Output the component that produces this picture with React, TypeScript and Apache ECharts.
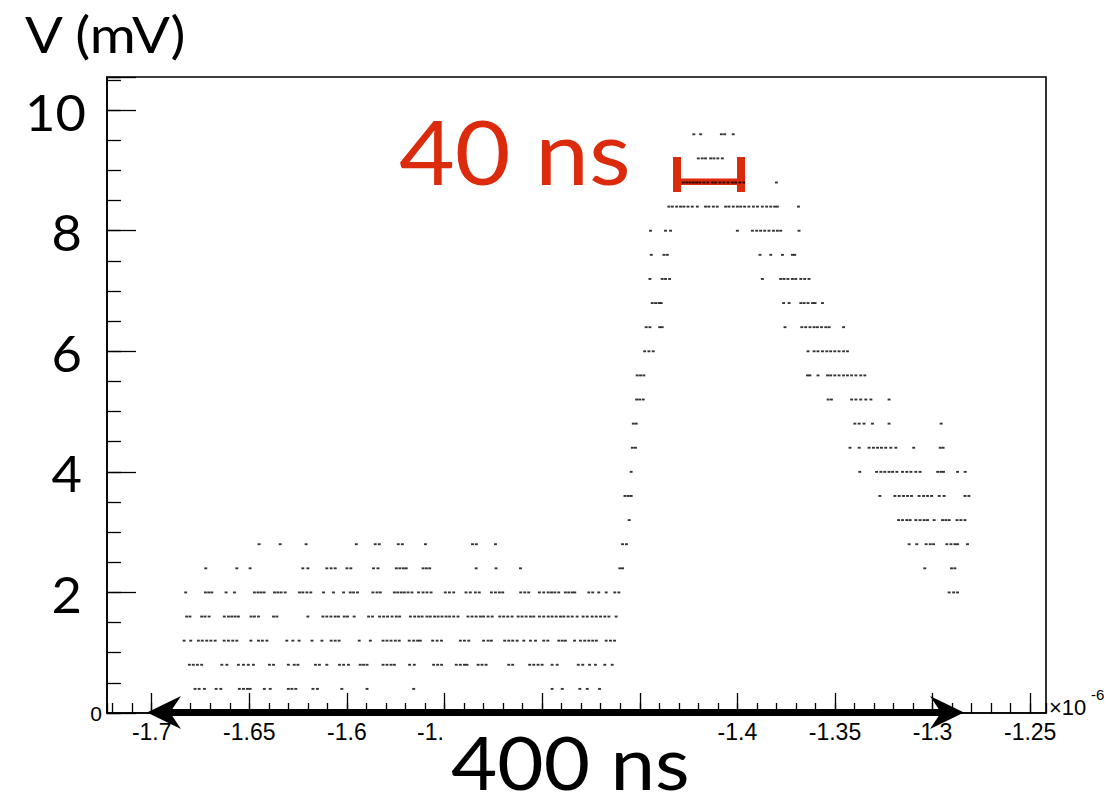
import React, { useEffect, useRef } from "react";
import * as echarts from "echarts";

// Voltage levels (mV) of the digitised samples
const levels = [0.4, 0.8, 1.2, 1.6, 2.0, 2.4, 2.8, 3.2, 3.6, 4.0, 4.4, 4.8, 5.2, 5.6, 6.0, 6.4, 6.8, 7.2, 7.6, 8.0, 8.4, 8.8, 9.2, 9.6];

// Sample times (ns), one array per level
const t04 = [-1677.8, -1675.7, -1673.0, -1667.0, -1664.6, -1655.1, -1653.0, -1651.0, -1649.6, -1642.3, -1639.3, -1630.0, -1628.2, -1626.2, -1617.4, -1615.1, -1602.6, -1589.7, -1565.8, -1494.9, -1489.7, -1480.7, -1476.9, -1470.6];
const t08 = [-1680.7, -1678.7, -1676.6, -1674.4, -1664.1, -1661.5, -1655.6, -1653.0, -1650.5, -1647.9, -1639.7, -1637.6, -1630.0, -1627.0, -1625.1, -1616.1, -1614.1, -1610.3, -1603.8, -1601.7, -1599.2, -1593.2, -1591.5, -1589.7, -1581.5, -1579.5, -1577.4, -1575.7, -1567.9, -1565.5, -1555.6, -1553.5, -1551.5, -1544.0, -1541.9, -1539.8, -1538.5, -1532.8, -1530.8, -1528.7, -1517.1, -1515.1, -1506.4, -1504.3, -1502.1, -1500.0, -1494.9, -1492.3, -1481.5, -1479.2, -1475.7, -1472.7, -1467.9, -1464.1];
const t12 = [-1683.4, -1680.0, -1676.1, -1674.1, -1671.8, -1669.7, -1667.5, -1662.9, -1660.7, -1658.5, -1656.4, -1649.2, -1645.3, -1643.3, -1641.0, -1630.8, -1627.7, -1624.5, -1617.9, -1612.8, -1608.1, -1606.0, -1604.0, -1593.7, -1588.0, -1581.5, -1579.5, -1577.4, -1575.2, -1573.2, -1568.1, -1565.8, -1563.8, -1562.4, -1556.1, -1553.8, -1551.6, -1541.9, -1539.8, -1537.6, -1530.0, -1527.7, -1526.0, -1519.2, -1517.1, -1515.1, -1512.8, -1509.4, -1506.0, -1503.4, -1499.2, -1497.1, -1491.5, -1489.7, -1488.1, -1483.4, -1480.4, -1478.2, -1476.1, -1474.1, -1472.2, -1467.2, -1465.0, -1462.9];
const t16 = [-1682.1, -1680.4, -1674.4, -1672.7, -1670.6, -1662.8, -1660.7, -1659.0, -1657.3, -1655.6, -1649.1, -1647.4, -1645.3, -1637.6, -1635.9, -1620.0, -1612.3, -1610.3, -1608.2, -1606.0, -1604.3, -1601.4, -1599.7, -1596.3, -1588.9, -1586.9, -1583.3, -1581.2, -1579.2, -1576.9, -1574.7, -1573.0, -1567.5, -1565.3, -1563.3, -1561.5, -1559.0, -1557.3, -1555.1, -1553.3, -1551.3, -1549.2, -1547.4, -1545.3, -1543.1, -1538.0, -1535.9, -1533.8, -1531.6, -1530.0, -1527.7, -1525.6, -1521.7, -1519.7, -1517.6, -1515.4, -1512.3, -1510.3, -1508.2, -1506.0, -1504.3, -1501.4, -1499.2, -1496.9, -1494.9, -1492.8, -1490.6, -1488.9, -1486.7, -1484.6, -1482.1, -1479.0, -1476.9, -1474.4, -1472.3, -1470.1, -1467.9, -1465.8, -1462.1];
const t20 = [-1682.6, -1672.5, -1670.8, -1669.2, -1661.9, -1657.6, -1647.4, -1645.6, -1644.0, -1642.4, -1637.1, -1635.4, -1633.7, -1631.6, -1624.3, -1622.6, -1620.5, -1618.5, -1612.0, -1606.9, -1601.7, -1598.3, -1596.6, -1594.6, -1586.7, -1584.6, -1582.9, -1575.7, -1574.0, -1572.2, -1570.6, -1568.7, -1566.7, -1563.3, -1561.0, -1559.0, -1556.9, -1549.6, -1547.5, -1545.3, -1539.0, -1536.8, -1534.2, -1532.2, -1526.0, -1523.9, -1521.9, -1520.2, -1511.0, -1508.9, -1506.9, -1501.4, -1499.2, -1496.9, -1495.2, -1493.5, -1491.5, -1488.1, -1486.4, -1484.6, -1483.3, -1476.1, -1474.1, -1471.0, -1467.2, -1462.8, -1460.7, -1291.5, -1289.2, -1287.2];
const t24 = [-1672.3, -1656.4, -1649.6, -1622.6, -1620.0, -1610.3, -1608.1, -1606.0, -1600.0, -1598.0, -1586.4, -1584.1, -1574.7, -1572.9, -1571.1, -1569.6, -1561.0, -1559.3, -1557.6, -1533.8, -1523.6, -1511.1, -1460.2, -1458.8, -1304.0, -1290.3, -1288.6];
const t28 = [-1645.0, -1634.2, -1620.9, -1595.2, -1585.5, -1583.4, -1573.7, -1571.6, -1559.8, -1535.7, -1533.7, -1523.9, -1458.8, -1456.8, -1312.0, -1308.1, -1303.3, -1301.2, -1299.5, -1292.7, -1290.6, -1288.6, -1287.2, -1282.1];
const t32 = [-1455.4, -1317.4, -1315.4, -1313.2, -1311.5, -1308.6, -1306.4, -1304.3, -1302.6, -1299.2, -1294.9, -1293.2, -1291.5, -1287.5, -1285.5, -1283.4];
const t36 = [-1457.6, -1455.9, -1454.4, -1327.0, -1319.3, -1317.1, -1314.9, -1312.8, -1310.8, -1306.9, -1304.6, -1302.6, -1300.5, -1296.6, -1294.1, -1283.4, -1281.4];
const t40 = [-1454.4, -1337.3, -1328.7, -1326.5, -1324.5, -1322.3, -1320.5, -1318.3, -1315.4, -1313.2, -1311.1, -1308.6, -1306.4, -1297.4, -1295.7, -1294.4, -1287.2, -1283.3];
const t44 = [-1453.8, -1452.2, -1342.3, -1337.6, -1332.5, -1330.3, -1328.2, -1326.2, -1324.0, -1321.4, -1318.8, -1309.7, -1296.1, -1294.6];
const t48 = [-1453.3, -1451.8, -1339.8, -1337.6, -1335.1, -1330.8, -1322.3, -1295.6];
const t52 = [-1451.6, -1450.0, -1448.2, -1353.5, -1351.8, -1341.5, -1339.3, -1336.8, -1334.2, -1331.6, -1322.3];
const t56 = [-1451.3, -1449.6, -1447.9, -1364.1, -1362.8, -1358.7, -1353.8, -1352.2, -1350.1, -1347.9, -1345.6, -1343.6, -1341.5, -1339.3, -1336.8, -1334.7];
const t60 = [-1447.5, -1445.3, -1443.1, -1363.8, -1360.7, -1358.7, -1356.4, -1354.2, -1352.2, -1350.1, -1347.9, -1345.6, -1343.6];
const t64 = [-1446.7, -1444.8, -1439.8, -1438.5, -1375.6, -1367.0, -1365.0, -1362.8, -1360.7, -1359.0, -1356.9, -1354.7, -1353.0, -1345.6];
const t68 = [-1443.6, -1441.9, -1440.2, -1439.0, -1376.3, -1373.5, -1367.5, -1365.8, -1363.8, -1361.5, -1360.2, -1356.4];
const t72 = [-1444.8, -1438.5, -1436.8, -1434.7, -1387.2, -1377.8, -1376.1, -1374.1, -1371.8, -1370.1, -1367.5, -1365.5, -1363.3];
const t76 = [-1444.1, -1437.6, -1435.9, -1388.4, -1382.9, -1376.9, -1371.8, -1370.6];
const t80 = [-1444.5, -1436.8, -1434.2, -1400.0, -1392.3, -1390.1, -1388.1, -1386.0, -1383.8, -1381.5, -1379.5, -1377.8, -1368.4];
const t84 = [-1435.1, -1433.3, -1431.1, -1429.1, -1427.4, -1425.3, -1423.1, -1420.5, -1416.3, -1414.6, -1412.3, -1410.3, -1406.0, -1404.3, -1402.1, -1400.0, -1398.3, -1396.3, -1394.1, -1391.8, -1389.7, -1387.2, -1385.0, -1382.9, -1380.9, -1379.5, -1368.7];
const t88 = [-1427.7, -1426.0, -1424.3, -1422.6, -1420.9, -1419.2, -1417.1, -1415.1, -1412.8, -1411.1, -1408.9, -1406.9, -1404.8, -1402.6, -1400.9, -1398.7, -1396.6, -1380.0];
const t92 = [-1420.0, -1418.0, -1416.3, -1413.7, -1412.0, -1410.0, -1407.7];
const t96 = [-1422.3, -1418.8, -1408.2, -1406.5, -1402.1];

const levelTimes = [t04, t08, t12, t16, t20, t24, t28, t32, t36, t40, t44, t48, t52, t56, t60, t64, t68, t72, t76, t80, t84, t88, t92, t96];

// Axis ranges (x in units of 1e-6 s, y in mV)
const xMin = -1.7229;
const xMax = -1.2419;
const yMin = 0;
const yMax = 10.55;

// Overlaid big tick labels on the V axis
const bigYLabels = [10, 8, 6, 4, 2];
// x tick labels hidden behind the "400 ns" note, and the one left truncated
const hiddenXLabels = ["-1.5", "-1.45"];
const truncatedXLabel = "-1.55";

const RED = "#dc2a0c";
const BIG_FONT = "Lato, 'Open Sans', sans-serif";
const AXIS_FONT = "'Liberation Sans', Arial, sans-serif";

export default function App() {
  const ref = useRef<HTMLDivElement>(null);

  useEffect(() => {
    if (!ref.current) return;
    const chart = echarts.init(ref.current, undefined, { renderer: "svg" });

    const data: number[][] = [];
    levels.forEach((lv, i) => {
      levelTimes[i].forEach((tNs) => data.push([tNs / 1000, lv]));
    });

    const fmtX = (v: number) => String(parseFloat(Number(v).toFixed(3)));

    const option: any = {
      animation: false,
      backgroundColor: "#ffffff",
      grid: {
        left: 107,
        right: 64,
        top: 77,
        bottom: 83,
        show: true,
        borderColor: "#000",
        borderWidth: 1.6,
        backgroundColor: "transparent",
        containLabel: false,
        outerBoundsMode: "none",
      },
      xAxis: [
        {
          type: "value",
          position: "bottom",
          min: xMin,
          max: xMax,
          splitNumber: 10,
          minInterval: 0.05,
          maxInterval: 0.05,
          axisLine: { show: true, onZero: false, lineStyle: { color: "#000", width: 1.6 } },
          axisTick: { show: true, inside: true, length: 20, interval: 0, lineStyle: { color: "#000", width: 1.3 } },
          axisLabel: {
            show: true,
            interval: 0,
            showMinLabel: false,
            showMaxLabel: false,
            margin: 7,
            color: "#000",
            fontSize: 23,
            fontFamily: AXIS_FONT,
            formatter: (v: number) => {
              const s = fmtX(v);
              if (hiddenXLabels.includes(s)) return "";
              if (s === truncatedXLabel) return "{cut|-1.}";
              return s;
            },
            rich: {
              cut: { width: 55, align: "left", fontSize: 23, fontFamily: AXIS_FONT, color: "#000" },
            },
          },
          splitLine: { show: false },
        },
        {
          type: "value",
          position: "bottom",
          min: xMin,
          max: xMax,
          splitNumber: 48,
          minInterval: 0.01,
          maxInterval: 0.01,
          axisLine: { show: false, onZero: false },
          axisTick: { show: true, inside: true, length: 10, interval: 0, lineStyle: { color: "#000", width: 1.3 } },
          axisLabel: { show: false },
          splitLine: { show: false },
        },
      ],
      yAxis: [
        {
          type: "value",
          position: "left",
          min: yMin,
          max: yMax,
          interval: 2,
          axisLine: { show: true, onZero: false, lineStyle: { color: "#000", width: 1.6 } },
          axisTick: { show: true, inside: true, length: 29, interval: 0, lineStyle: { color: "#000", width: 1.3 } },
          axisLabel: {
            show: true,
            margin: 5,
            color: "#000",
            fontSize: 21,
            fontFamily: AXIS_FONT,
            formatter: (v: number) => (v === 0 ? "0" : ""),
          },
          splitLine: { show: false },
        },
        {
          type: "value",
          position: "left",
          min: yMin,
          max: yMax,
          interval: 0.5,
          axisLine: { show: false, onZero: false },
          axisTick: { show: true, inside: true, length: 14, interval: 0, lineStyle: { color: "#000", width: 1.3 } },
          axisLabel: { show: false },
          splitLine: { show: false },
        },
      ],
      series: [
        {
          type: "scatter",
          xAxisIndex: 0,
          yAxisIndex: 0,
          data,
          symbol: "rect",
          symbolSize: [2.9, 1.9],
          itemStyle: { color: "#000" },
          silent: true,
          z: 2,
        },
      ],
    };

    chart.setOption(option);

    const elements: any[] = [];

    // V (mV) axis title
    elements.push({
      type: "text",
      x: 25,
      y: 34,
      z: 20,
      scaleX: 1.12,
      style: { text: "V (mV)", fill: "#000", fontSize: 50, fontFamily: BIG_FONT, textAlign: "left", textVerticalAlign: "middle" },
    });

    // Big overlaid y tick labels
    bigYLabels.forEach((v) => {
      const py = chart.convertToPixel({ yAxisIndex: 0 }, v) as number;
      elements.push({
        type: "text",
        x: v >= 10 ? 86 : 82,
        y: py + 1,
        z: 20,
        scaleX: 1.05,
        style: { text: String(v), fill: "#000", fontSize: 50, fontFamily: BIG_FONT, textAlign: "right", textVerticalAlign: "middle" },
      });
    });

    // 40 ns annotation (bracket sits beneath the samples)
    elements.push({
      type: "text",
      x: 399,
      y: 150,
      z: 20,
      scaleX: 1.07,
      style: { text: "40 ns", fill: RED, fontSize: 90, fontFamily: BIG_FONT, textAlign: "left", textVerticalAlign: "middle", lineHeight: 80 },
    });
    elements.push({ type: "rect", z: 1, shape: { x: 673, y: 157, width: 8, height: 35 }, style: { fill: RED } });
    elements.push({ type: "rect", z: 1, shape: { x: 737, y: 157, width: 8, height: 35 }, style: { fill: RED } });
    elements.push({ type: "rect", z: 1, shape: { x: 673, y: 178.5, width: 72, height: 6.5 }, style: { fill: RED } });

    // 400 ns label
    elements.push({
      type: "text",
      x: 451,
      y: 761,
      z: 20,
      scaleX: 1.08,
      style: { text: "400 ns", fill: "#000", fontSize: 74, fontFamily: BIG_FONT, textAlign: "left", textVerticalAlign: "middle", lineHeight: 60 },
    });

    // Double-headed arrow along the time axis
    elements.push({ type: "rect", z: 25, shape: { x: 165, y: 709, width: 780, height: 7 }, style: { fill: "#000" } });
    elements.push({
      type: "polygon",
      z: 25,
      shape: { points: [[147, 712.5], [181, 696], [170, 712.5], [181, 729]] },
      style: { fill: "#000" },
    });
    elements.push({
      type: "polygon",
      z: 25,
      shape: { points: [[964, 712.5], [930, 696], [941, 712.5], [930, 729]] },
      style: { fill: "#000" },
    });

    // x10^-6 exponent
    elements.push({
      type: "text",
      x: 1049,
      y: 707,
      z: 20,
      style: { text: "×10", fill: "#000", fontSize: 22, fontFamily: AXIS_FONT, textAlign: "left", textVerticalAlign: "middle" },
    });
    elements.push({
      type: "text",
      x: 1091,
      y: 694,
      z: 20,
      style: { text: "-6", fill: "#000", fontSize: 15, fontFamily: AXIS_FONT, textAlign: "left", textVerticalAlign: "middle" },
    });

    chart.setOption({ graphic: { elements } });

    return () => chart.dispose();
  }, []);

  return <div ref={ref} style={{ position: "absolute", left: 0, top: 0, width: 1110, height: 796 }} />;
}
